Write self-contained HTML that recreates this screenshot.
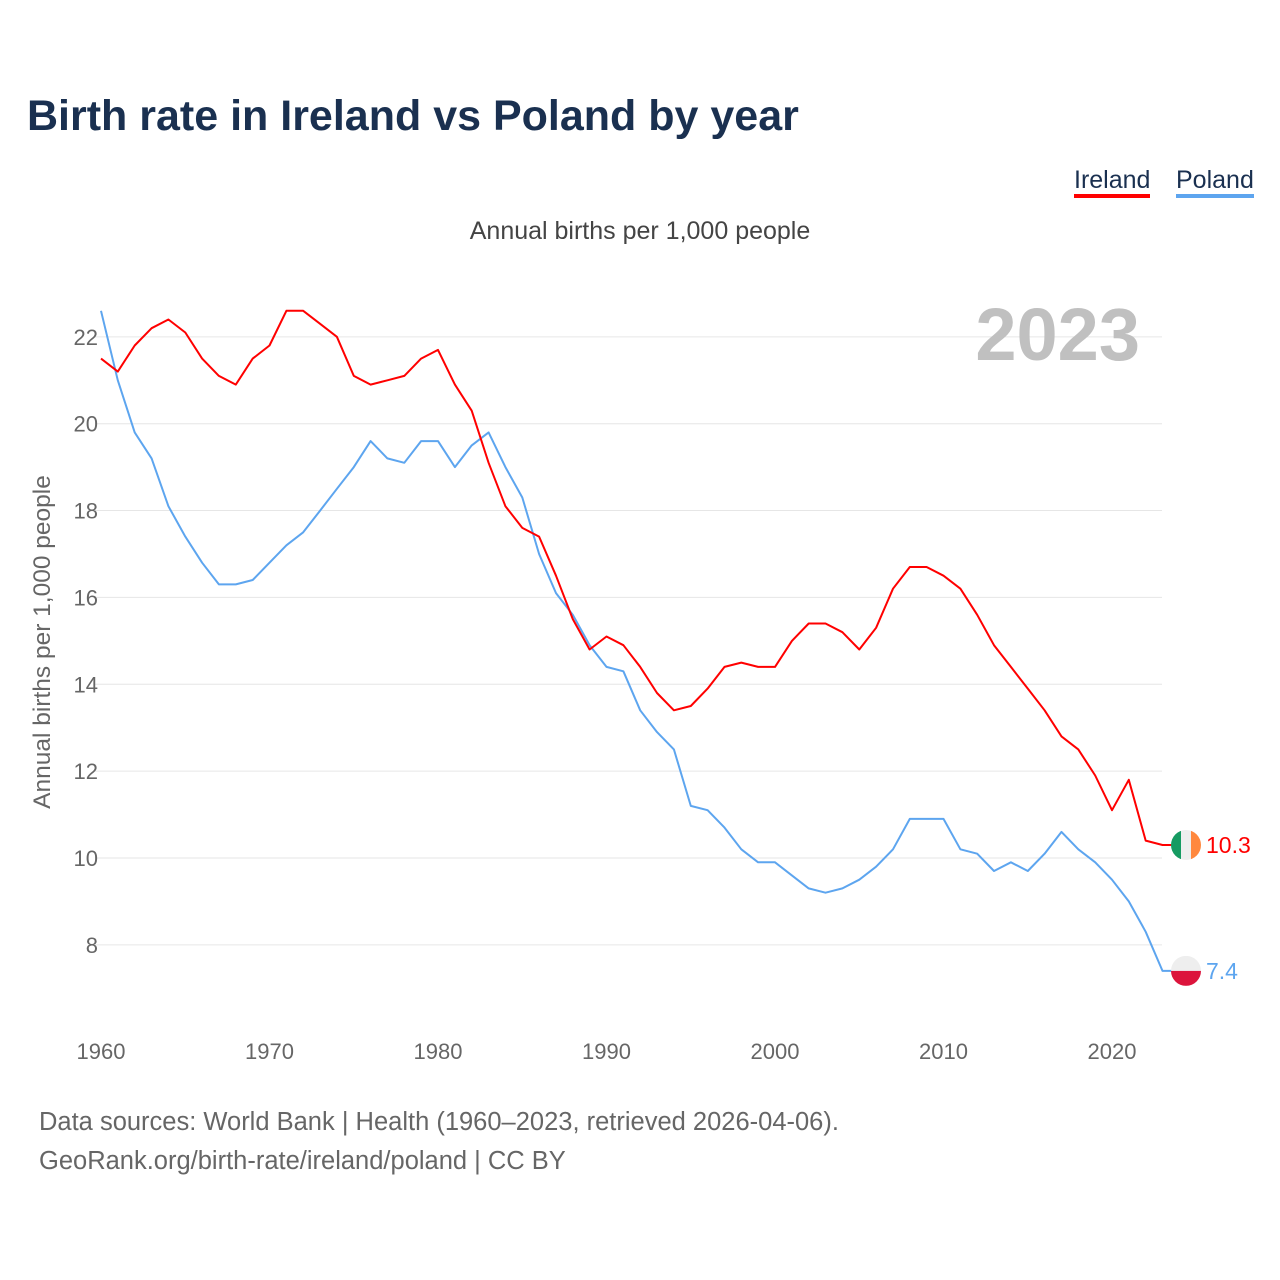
<!DOCTYPE html>
<html><head><meta charset="utf-8"><style>
body{margin:0;background:#fff;font-family:"Liberation Sans",sans-serif;}
#wrap{position:relative;width:1280px;height:1280px;}
.t{position:absolute;white-space:nowrap;}
</style></head><body>
<div id="wrap">
<div class="t" style="left:27px;top:92px;font-size:43px;font-weight:bold;color:#1a3050;">Birth rate in Ireland vs Poland by year</div>
<div class="t" style="left:1074px;top:166px;font-size:25px;color:#1a3050;border-bottom:4px solid #ff0000;line-height:28px;">Ireland</div>
<div class="t" style="left:1176px;top:166px;font-size:25px;color:#1a3050;border-bottom:4px solid #5da5ef;line-height:28px;">Poland</div>
<div class="t" style="left:0;width:1280px;text-align:center;top:217px;font-size:25px;color:#444;">Annual births per 1,000 people</div>
<div class="t" style="left:39px;top:1103px;font-size:25.5px;color:#666;line-height:39px;">Data sources: World Bank | Health (1960–2023, retrieved 2026-04-06).<br>GeoRank.org/birth-rate/ireland/poland | CC BY</div>
<svg id="svg" width="1280" height="1280" style="position:absolute;left:0;top:0"></svg>
</div>
<script>
const years=[];for(let y=1960;y<=2023;y++)years.push(y);
const ireland=[21.5,21.2,21.8,22.2,22.4,22.1,21.5,21.1,20.9,21.5,21.8,22.6,22.6,22.3,22.0,21.1,20.9,21.0,21.1,21.5,21.7,20.9,20.3,19.1,18.1,17.6,17.4,16.5,15.5,14.8,15.1,14.9,14.4,13.8,13.4,13.5,13.9,14.4,14.5,14.4,14.4,15.0,15.4,15.4,15.2,14.8,15.3,16.2,16.7,16.7,16.5,16.2,15.6,14.9,14.4,13.9,13.4,12.8,12.5,11.9,11.1,11.8,10.4,10.3];
const poland=[22.6,21.0,19.8,19.2,18.1,17.4,16.8,16.3,16.3,16.4,16.8,17.2,17.5,18.0,18.5,19.0,19.6,19.2,19.1,19.6,19.6,19.0,19.5,19.8,19.0,18.3,17.0,16.1,15.6,14.9,14.4,14.3,13.4,12.9,12.5,11.2,11.1,10.7,10.2,9.9,9.9,9.6,9.3,9.2,9.3,9.5,9.8,10.2,10.9,10.9,10.9,10.2,10.1,9.7,9.9,9.7,10.1,10.6,10.2,9.9,9.5,9.0,8.3,7.4];
const yTicks=[8,10,12,14,16,18,20,22];
const xTicks=[1960,1970,1980,1990,2000,2010,2020];
const NS="http://www.w3.org/2000/svg";
const svg=document.getElementById('svg');
const X=y=>101+(y-1960)*(1112-101)/60;
const Y=v=>858-(v-10)*43.43;
function el(t,a,p){const e=document.createElementNS(NS,t);for(const k in a)e.setAttribute(k,a[k]);(p||svg).appendChild(e);return e;}
yTicks.forEach(v=>{
 const l=el('line',{x1:95,x2:1162,y1:Y(v),y2:Y(v),stroke:'#e6e6e6','stroke-width':1});
 
 
 const t=el('text',{x:98,y:Y(v)+8,'text-anchor':'end','font-size':22,fill:'#666','font-family':'Liberation Sans'});
 t.textContent=v;
 
 
});
xTicks.forEach(v=>{
 const t=el('text',{x:X(v),y:1059,'text-anchor':'middle','font-size':22,fill:'#666','font-family':'Liberation Sans'});
 t.textContent=v;
 
 
});
const yt=el('text',{transform:'translate(50,642) rotate(-90)','text-anchor':'middle','font-size':24.5,fill:'#666','font-family':'Liberation Sans'});
yt.textContent='Annual births per 1,000 people';


const yr=el('text',{x:1140,y:360,'text-anchor':'end','font-size':74,'font-weight':'bold',fill:'#c0c0c0','font-family':'Liberation Sans'});
yr.textContent='2023';


function series(d,c,name){
 const pts=d.map((v,i)=>(i?'L':'M')+X(years[i]).toFixed(1)+','+Y(v).toFixed(1)).join('');
 const p=el('path',{d:pts+'H1172',fill:'none',stroke:c,'stroke-width':2,'stroke-linejoin':'round'});
 
 
}
series(poland,'#5da5ef','poland');
series(ireland,'#ff0000','ireland');
const iy=Y(ireland[ireland.length-1]),py=Y(poland[poland.length-1]);
const ex=1186;
el('defs',{},svg).innerHTML='<clipPath id="ci"><circle cx="'+ex+'" cy="'+iy+'" r="15"/></clipPath><clipPath id="cp"><circle cx="'+ex+'" cy="'+py+'" r="15"/></clipPath>';
const gI=el('g',{});


el('rect',{x:ex-15,y:iy-15,width:10,height:30,fill:'#169b62','clip-path':'url(#ci)'},gI);
el('rect',{x:ex-5,y:iy-15,width:10,height:30,fill:'#eee','clip-path':'url(#ci)'},gI);
el('rect',{x:ex+5,y:iy-15,width:10,height:30,fill:'#ff883e','clip-path':'url(#ci)'},gI);
const gP=el('g',{});


el('rect',{x:ex-15,y:py-15,width:30,height:15,fill:'#eee','clip-path':'url(#cp)'},gP);
el('rect',{x:ex-15,y:py,width:30,height:15,fill:'#dc143c','clip-path':'url(#cp)'},gP);
const li=el('text',{x:1206,y:iy+8,'font-size':23,fill:'#ff0000','font-family':'Liberation Sans'});
li.textContent=ireland[ireland.length-1];


const lp=el('text',{x:1206,y:py+8,'font-size':23,fill:'#5da5ef','font-family':'Liberation Sans'});
lp.textContent=poland[poland.length-1];


</script>
</body></html>
